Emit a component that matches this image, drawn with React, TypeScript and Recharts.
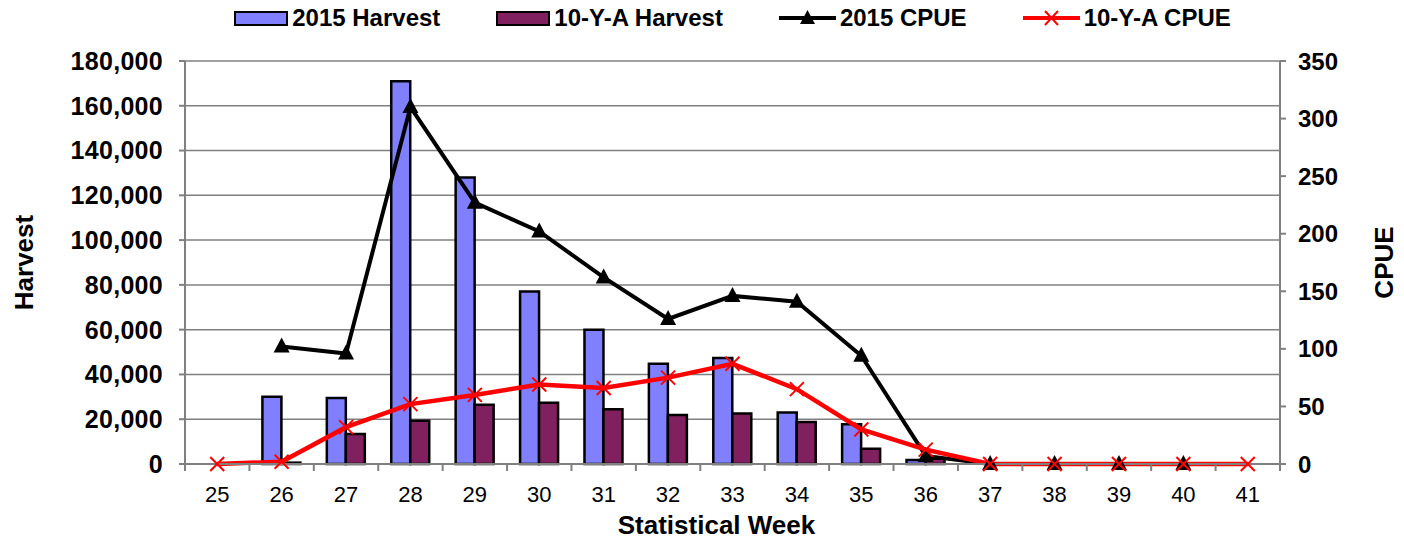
import React from "react";
import {
  ComposedChart, Bar, Line, XAxis, YAxis, CartesianGrid,
} from "recharts";

const weeks = ["25", "26", "27", "28", "29", "30", "31", "32", "33", "34", "35", "36", "37", "38", "39", "40", "41"];
const harvest2015 = [0, 30000, 29500, 171000, 128000, 77000, 60000, 44800, 47300, 23000, 17700, 1800, 0, 0, 0, 0, 0];
const harvest10ya = [0, 600, 13400, 19300, 26500, 27400, 24400, 21900, 22600, 18800, 6800, 2300, 0, 0, 0, 0, 0];
const cpue2015 = [null, 102, 96, 310, 227, 202, 162, 126, 146, 141, 94, 7, 0, 0, 0, 0, null];
const cpue10ya = [0, 2, 32, 52, 60, 69, 66, 75, 87, 65, 30, 12.5, 0, 0, 0, 0, 0];
const harvestTicks = [0, 20000, 40000, 60000, 80000, 100000, 120000, 140000, 160000, 180000];
const cpueTicks = [0, 50, 100, 150, 200, 250, 300, 350];

const data = weeks.map((w, i) => ({
  week: w,
  h2015: harvest2015[i],
  h10ya: harvest10ya[i],
  c2015: cpue2015[i],
  c10ya: cpue10ya[i],
}));

const FONT = "'Liberation Sans', Arial, sans-serif";
const BLUE = "#8080FF";
const PLUM = "#80205E";
const AXIS = "#808080";

function TriangleDot(props: any) {
  const { cx, cy, payload } = props;
  if (cx == null || cy == null || payload?.c2015 == null) return null;
  return <path d={`M${cx},${cy - 9} L${cx + 8},${cy + 6} L${cx - 8},${cy + 6} Z`} fill="#000" />;
}

function CrossDot(props: any) {
  const { cx, cy } = props;
  if (cx == null || cy == null) return null;
  const r = 7;
  return (
    <g stroke="#FF0000" strokeWidth={2}>
      <line x1={cx - r} y1={cy - r} x2={cx + r} y2={cy + r} />
      <line x1={cx - r} y1={cy + r} x2={cx + r} y2={cy - r} />
    </g>
  );
}

function WeekTick(props: any) {
  const { x, y, payload, index, visibleTicksCount } = props;
  const off = payload.offset ?? 0;
  const last = index === visibleTicksCount - 1;
  return (
    <g>
      <line x1={x - off} x2={x - off} y1={y - 22} y2={y - 15} stroke={AXIS} strokeWidth={2} />
      {last && <line x1={x + off} x2={x + off} y1={y - 22} y2={y - 15} stroke={AXIS} strokeWidth={2} />}
      <text x={x} y={y} dy="0.71em" textAnchor="middle" fontSize={22} fontFamily={FONT} fill="#000">
        {payload.value}
      </text>
    </g>
  );
}

function SideLabel({ viewBox, value, side }: any) {
  const cy = viewBox.y + viewBox.height / 2;
  const bx = side === "left" ? viewBox.x + 33 : viewBox.x + viewBox.width - 11;
  return (
    <text x={bx} y={cy} transform={`rotate(-90 ${bx} ${cy})`} textAnchor="middle"
      fontSize={26} fontWeight="bold" fontFamily={FONT} fill="#000">
      {value}
    </text>
  );
}

function BottomLabel({ viewBox, value }: any) {
  const cx = viewBox.x + viewBox.width / 2 - 16;
  const by = viewBox.y + viewBox.height - 5;
  return (
    <text x={cx} y={by} textAnchor="middle" fontSize={26} fontWeight="bold" fontFamily={FONT} fill="#000">
      {value}
    </text>
  );
}

function LegendItem({ kind, color, label }: { kind: string; color: string; label: string }) {
  return (
    <div style={{ display: "flex", alignItems: "center", gap: 4 }}>
      {kind === "bar" ? (
        <span style={{ width: 50, height: 11, background: color, border: "2px solid #000", display: "inline-block" }} />
      ) : (
        <svg width={57} height={20}>
          <line x1={0} x2={57} y1={10} y2={10} stroke={color} strokeWidth={4} />
          {kind === "tri" ? (
            <path d="M28.5,2 L36,16 L21,16 Z" fill="#000" />
          ) : (
            <g stroke="#FF0000" strokeWidth={2}>
              <line x1={22} y1={3} x2={35} y2={17} />
              <line x1={22} y1={17} x2={35} y2={3} />
            </g>
          )}
        </svg>
      )}
      <span>{label}</span>
    </div>
  );
}

export default function App() {
  return (
    <div style={{ position: "absolute", left: 0, top: 0, width: 1404, height: 539, background: "#fff", fontFamily: FONT }}>
      <div style={{
        position: "absolute", left: 185, top: 4, width: 1095, display: "flex", justifyContent: "center",
        gap: 56, fontSize: 24, fontWeight: "bold", lineHeight: "28px",
      }}>
        <LegendItem kind="bar" color={BLUE} label="2015 Harvest" />
        <LegendItem kind="bar" color={PLUM} label="10-Y-A Harvest" />
        <LegendItem kind="tri" color="#000" label="2015 CPUE" />
        <LegendItem kind="x" color="#FF0000" label="10-Y-A CPUE" />
      </div>
      <ComposedChart width={1404} height={539} data={data}
        margin={{ top: 61, right: 0, bottom: 0, left: 0 }} barSize={19} barGap={0}>
        <CartesianGrid vertical={false} stroke={AXIS} strokeWidth={1.5} yAxisId="left" />
        <XAxis dataKey="week" height={75} stroke={AXIS} strokeWidth={2} tickLine={false}
          tickSize={7} tickMargin={15} interval={0} tick={<WeekTick />}
          label={<BottomLabel value="Statistical Week" />} />
        <YAxis yAxisId="left" orientation="left" width={185} domain={[0, 180000]} ticks={harvestTicks}
          stroke={AXIS} strokeWidth={2} tickSize={6} tickMargin={16} interval={0}
          tickFormatter={(v: number) => v.toLocaleString("en-US")}
          tick={{ fontSize: 25, fontWeight: "bold", fill: "#000", fontFamily: FONT, letterSpacing: 0.3 }}
          label={<SideLabel value="Harvest" side="left" />} />
        <YAxis yAxisId="right" orientation="right" width={124} domain={[0, 350]} ticks={cpueTicks}
          stroke={AXIS} strokeWidth={2} tickSize={6} tickMargin={12} interval={0}
          tick={{ fontSize: 24, fontWeight: "bold", fill: "#000", fontFamily: FONT }}
          label={<SideLabel value="CPUE" side="right" />} />
        <Bar yAxisId="left" dataKey="h2015" fill={BLUE} stroke="#000" strokeWidth={2.5} isAnimationActive={false} />
        <Bar yAxisId="left" dataKey="h10ya" fill={PLUM} stroke="#000" strokeWidth={2.5} isAnimationActive={false} />
        <Line yAxisId="right" dataKey="c2015" type="linear" stroke="#000" strokeWidth={4}
          dot={<TriangleDot />} activeDot={false} isAnimationActive={false} />
        <Line yAxisId="right" dataKey="c10ya" type="linear" stroke="#FF0000" strokeWidth={4.5}
          dot={<CrossDot />} activeDot={false} isAnimationActive={false} />
      </ComposedChart>
    </div>
  );
}
